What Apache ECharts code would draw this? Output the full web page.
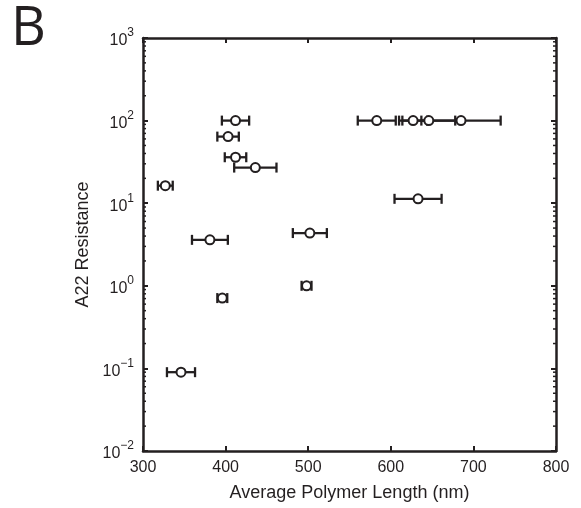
<!DOCTYPE html>
<html>
<head>
<meta charset="utf-8">
<script src="https://cdn.jsdelivr.net/npm/echarts@6/dist/echarts.min.js"></script>
<style>
  html, body { margin: 0; padding: 0; background: #fff; }
  #main { width: 581px; height: 508px; }
</style>
</head>
<body>
<div id="main"></div>
<script>
// values
var lengths    = [412, 403, 412, 436, 327, 381, 502, 396, 498, 346, 583, 627, 646, 685, 633];
var lengthErr  = [16.5, 13, 13, 25.6, 9, 21.7, 20.6, 6, 6, 17, 23, 17, 32, 48, 28.5];
var resistance = [100, 64, 36, 27, 16.3, 3.6, 4.35, 0.71, 1.0, 0.09, 100, 100, 100, 100, 11.3];
var xTicks = [300, 400, 500, 600, 700, 800];
var yDecades = [-2, -1, 0, 1, 2, 3];

var ink = '#231f20';
var font = '"Liberation Sans", Arial, sans-serif';

var points = [];
var bars = [];
for (var i = 0; i < lengths.length; i++) {
    points.push([lengths[i], resistance[i]]);
    bars.push([lengths[i], resistance[i], lengthErr[i]]);
}

// minor ticks for the log axis (2..9 in each decade)
var minor = [];
for (var d = 0; d < yDecades.length - 1; d++) {
    for (var m = 2; m <= 9; m++) {
        minor.push([xTicks[0], m * Math.pow(10, yDecades[d])]);
    }
}

function supLabel(v) {
    var e = Math.round(Math.log(v) / Math.LN10);
    var s = e < 0 ? '\u2212' + (-e) : '' + e;
    return '{a|10}{b|' + s + '}';
}

var myChart = echarts.init(document.getElementById('main'));

var option = {
    animation: false,
    grid: { left: 143, right: 25, top: 38, bottom: 57 },
    graphic: [{
        type: 'text', left: 11, top: 3,
        style: { text: 'B', font: '54px "Open Sans", "DejaVu Sans", sans-serif', fill: ink }
    }],
    xAxis: [{
        type: 'value', min: 300, max: 800, interval: 100,
        name: 'Average Polymer Length (nm)', nameLocation: 'middle', nameGap: 33,
        nameTextStyle: { fontFamily: font, fontSize: 18, color: ink },
        axisLine: { onZero: false, lineStyle: { color: ink, width: 2.5 } },
        axisTick: { inside: true, length: 5, lineStyle: { color: ink, width: 2 } },
        axisLabel: { margin: 9, fontFamily: font, fontSize: 16, color: ink },
        splitLine: { show: false }
    }, {
        type: 'value', position: 'top', min: 300, max: 800, interval: 100,
        axisLine: { onZero: false, lineStyle: { color: ink, width: 2.5 } },
        axisTick: { inside: true, length: 5, lineStyle: { color: ink, width: 2 } },
        axisLabel: { show: false },
        splitLine: { show: false }
    }],
    yAxis: [{
        type: 'log', logBase: 10, min: 0.01, max: 1000,
        name: 'A22 Resistance', nameLocation: 'middle', nameGap: 43,
        nameTextStyle: { fontFamily: font, fontSize: 18, color: ink },
        axisLine: { lineStyle: { color: ink, width: 2.5 } },
        axisTick: { inside: true, length: 5, lineStyle: { color: ink, width: 2 } },
        axisLabel: {
            margin: 9, formatter: supLabel,
            rich: {
                a: { fontFamily: font, fontSize: 16, color: ink, verticalAlign: 'bottom', lineHeight: 22 },
                b: { fontFamily: font, fontSize: 12, color: ink, verticalAlign: 'top', lineHeight: 22, padding: [0, 0, 8, 0] }
            }
        },
        splitLine: { show: false }
    }, {
        type: 'log', logBase: 10, min: 0.01, max: 1000, position: 'right',
        axisLine: { lineStyle: { color: ink, width: 2.5 } },
        axisTick: { inside: true, length: 5, lineStyle: { color: ink, width: 2 } },
        axisLabel: { show: false },
        splitLine: { show: false }
    }],
    series: [{
        type: 'custom',
        name: 'minor',
        silent: true,
        clip: false,
        data: minor,
        renderItem: function (params, api) {
            var cs = params.coordSys;
            var y = api.coord([api.value(0), api.value(1)])[1];
            var st = { stroke: ink, lineWidth: 1.5 };
            return {
                type: 'group', children: [
                    { type: 'line', shape: { x1: cs.x, y1: y, x2: cs.x + 3, y2: y }, style: st },
                    { type: 'line', shape: { x1: cs.x + cs.width - 3, y1: y, x2: cs.x + cs.width, y2: y }, style: st }
                ]
            };
        }
    }, {
        type: 'custom',
        name: 'error',
        data: bars,
        clip: false,
        z: 2,
        renderItem: function (params, api) {
            var x = api.value(0), y = api.value(1), e = api.value(2);
            var lo = api.coord([x - e, y]);
            var hi = api.coord([x + e, y]);
            var h = 5;
            var st = { stroke: ink, lineWidth: 2.3 };
            return {
                type: 'group', children: [
                    { type: 'line', shape: { x1: lo[0], y1: lo[1], x2: hi[0], y2: hi[1] }, style: st },
                    { type: 'line', shape: { x1: lo[0], y1: lo[1] - h, x2: lo[0], y2: lo[1] + h }, style: st },
                    { type: 'line', shape: { x1: hi[0], y1: hi[1] - h, x2: hi[0], y2: hi[1] + h }, style: st }
                ]
            };
        }
    }, {
        type: 'scatter',
        name: 'points',
        data: points,
        symbol: 'circle',
        symbolSize: 9,
        z: 3,
        itemStyle: { color: '#fff', borderColor: ink, borderWidth: 2, opacity: 1 }
    }]
};

myChart.setOption(option);
</script>
</body>
</html>
